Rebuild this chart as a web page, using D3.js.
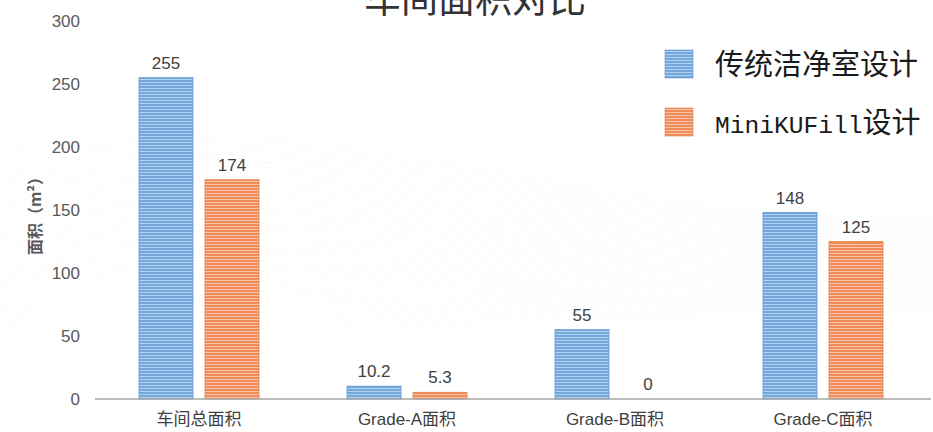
<!DOCTYPE html>
<html>
<head>
<meta charset="utf-8">
<script src="https://cdn.jsdelivr.net/npm/d3@7"></script>
<style>
	html, body { margin: 0; padding: 0; background: #fff; }
	svg { display: block; }
	text { font-family: "Liberation Sans", "Noto Sans CJK SC", sans-serif; }
</style>
</head>
<body>
<svg id="chart" width="933" height="432"></svg>
<script>
var categories = ["车间总面积", "Grade-A面积", "Grade-B面积", "Grade-C面积"];
var seriesNames = ["传统洁净室设计", "MiniKUFill设计"];
var traditionalValues = [255, 10.2, 55, 148];
var miniKUFillValues = [174, 5.3, 0, 125];
var yTickValues = [0, 50, 100, 150, 200, 250, 300];

var width = 933, height = 432;
var margin = {left: 95, right: 6, top: 21, bottom: 33};

var palette = [
	{id: "stripe-blue", base: "#74a8dc", stripe: "#b0d0f1", edge: "#6197d0"},
	{id: "stripe-orange", base: "#ef8d5a", stripe: "#f8c5a8", edge: "#e47e48"},
];

var svg = d3.select("#chart");

function addPatterns() {
	var defs = svg.append("defs");
	palette.forEach(function(p){
		var pat = defs.append("pattern")
			.attr("id", p.id)
			.attr("patternUnits", "userSpaceOnUse")
			.attr("width", 6).attr("height", 3);
		pat.append("rect").attr("width", 6).attr("height", 3).attr("fill", p.base);
		pat.append("rect").attr("y", 1).attr("width", 6).attr("height", 1)
			.attr("fill", p.stripe);
	});
}

// faint wavy decoration behind the chart
function addBackground() {
	var bg = svg.append("g").attr("class", "bg")
		.attr("fill", "none").attr("stroke", "#d8dde0")
		.attr("stroke-opacity", 0.1).attr("stroke-width", 1);
	d3.range(0, 40).forEach(function(i){
		var y0 = 150 + i * 6, y1 = 215 + i * 2.5;
		bg.append("path").attr("d",
			"M0," + y0 + " C250," + (y0 - 70) + " 600," + (y1 + 10) + " 933," + y1);
	});
	d3.range(0, 22).forEach(function(i){
		var r = 260 + i * 14;
		bg.append("circle").attr("cx", 180).attr("cy", 520 + i * 2).attr("r", r)
			.attr("stroke-opacity", 0.06);
	});
}

function draw() {
	var x0 = d3.scaleBand()
		.domain(categories)
		.range([margin.left, width - margin.right]);
	var x1 = d3.scaleBand()
		.domain(seriesNames)
		.range([x0.bandwidth() / 2 - 60, x0.bandwidth() / 2 + 60])
		.paddingInner(12 / 66);
	var y = d3.scaleLinear()
		.domain([0, 300])
		.range([height - margin.bottom, margin.top]);

	// y axis: labels only
	var yAxis = d3.axisLeft(y).tickValues(yTickValues).tickSize(0).tickPadding(0);
	var gy = svg.append("g")
		.attr("class", "axis y")
		.attr("transform", "translate(80,0)")
		.call(yAxis);
	gy.select(".domain").remove();
	gy.selectAll("text")
		.attr("font-size", 17)
		.attr("fill", "#595959")
		.style("font-family", "Liberation Sans, sans-serif");

	svg.append("text")
		.attr("transform", "translate(41,212) rotate(-90)")
		.attr("text-anchor", "middle")
		.attr("font-size", 16)
		.attr("font-weight", "bold")
		.attr("fill", "#595959")
		.style("font-family", "'Noto Sans CJK SC', sans-serif")
		.text("面积（m²）");

	var series = [traditionalValues, miniKUFillValues];
	series.forEach(function(values, s){
		var p = palette[s];
		var g = svg.append("g").attr("class", "series s" + s);
		g.selectAll("rect")
			.data(values)
			.join("rect")
			.attr("x", function(d, i){ return x0(categories[i]) + x1(seriesNames[s]); })
			.attr("y", function(d){ return y(d); })
			.attr("width", x1.bandwidth())
			.attr("height", function(d){ return y(0) - y(d); })
			.attr("fill", "url(#" + p.id + ")")
			.attr("stroke", p.edge)
			.attr("stroke-width", 0.8);
		g.selectAll("text")
			.data(values)
			.join("text")
			.attr("x", function(d, i){
				return x0(categories[i]) + x1(seriesNames[s]) + x1.bandwidth() / 2;
			})
			.attr("y", function(d){ return y(d) - 9; })
			.attr("text-anchor", "middle")
			.attr("font-size", 17)
			.attr("fill", "#404040")
			.text(function(d){ return d; });
	});

	// x axis
	var xAxis = d3.axisBottom(x0).tickSize(0).tickPadding(14);
	var gx = svg.append("g")
		.attr("class", "axis x")
		.attr("transform", "translate(0," + y(0) + ")")
		.call(xAxis);
	gx.select(".domain")
		.attr("stroke", "#a6a6a6")
		.attr("stroke-width", 1.5)
		.attr("d", "M" + margin.left + ",0H" + (width - 2));
	gx.selectAll("text")
		.attr("font-size", 17)
		.attr("fill", "#404040")
		.style("font-family", "Liberation Sans, 'Noto Sans CJK SC', sans-serif");

	// title (top cut off in the original)
	svg.append("text")
		.attr("x", 475)
		.attr("y", 13)
		.attr("text-anchor", "middle")
		.attr("font-size", 37)
		.attr("fill", "#333333")
		.style("font-family", "'Noto Sans CJK SC', sans-serif")
		.text("车间面积对比");

	addLegend();
}

function addLegend() {
	var legend = svg.append("g").attr("class", "legend");
	var rows = legend.selectAll("g")
		.data(seriesNames)
		.join("g")
		.attr("transform", function(d, i){ return "translate(665," + (50 + i * 58) + ")"; });
	rows.append("rect")
		.attr("width", 28).attr("height", 28)
		.attr("fill", function(d, i){ return "url(#" + palette[i].id + ")"; })
		.attr("stroke", function(d, i){ return palette[i].edge; })
		.attr("stroke-width", 0.6);
	rows.append("text")
		.attr("x", 50)
		.attr("y", 25)
		.attr("fill", "#1a1a1a")
		.each(function(d){
			var t = d3.select(this);
			var m = d.match(/^([A-Za-z]+)(.*)$/);
			if (m) {
				t.append("tspan").attr("font-size", 24.6)
					.style("font-family", "'Liberation Mono', monospace").text(m[1]);
				t.append("tspan").attr("font-size", 29)
					.style("font-family", "'Noto Sans CJK SC', sans-serif").text(m[2]);
			} else {
				t.append("tspan").attr("font-size", 29)
					.style("font-family", "'Noto Sans CJK SC', sans-serif").text(d);
			}
		});
}

addPatterns();
addBackground();
draw();
</script>
</body>
</html>
